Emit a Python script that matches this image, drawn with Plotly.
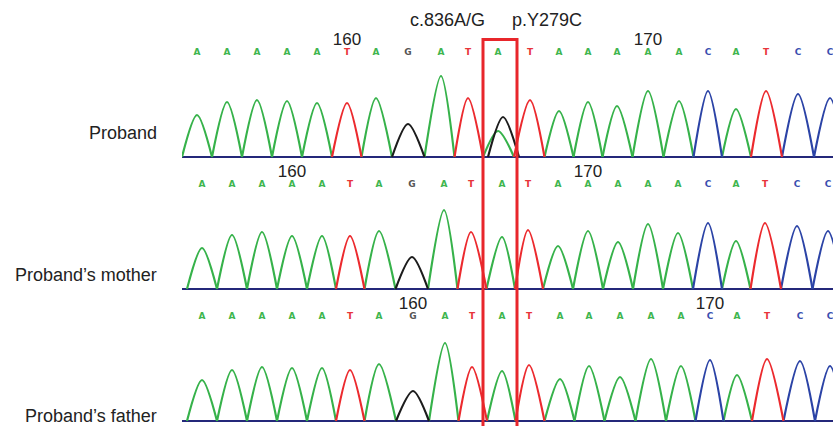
import plotly.graph_objects as go

# ---------------- data ----------------
bases = list("AAAAATAGATATAAAAACATCC")
samples = ["Proband", "Proband’s mother", "Proband’s father"]
first_position = [155, 157, 153]          # position number of first base shown

# peak locations (trace scan units) per sample
peak_loc_proband = [15, 45, 75, 105, 135, 165, 194, 226, 259, 286, 316, 348, 377, 406, 435, 466, 497, 526, 554, 584, 616, 648]
peak_loc_mother = [20, 50, 80, 110, 140, 168, 197, 230, 262, 289, 320, 346, 376, 406, 436, 466, 496, 526, 554, 583, 615, 646]
peak_loc_father = [20, 50, 80, 110, 140, 168, 197, 231, 263, 290, 320, 347, 378, 407, 438, 469, 499, 528, 555, 585, 618, 648]

# peak heights (signal) per sample
height_proband = [42, 55, 57, 56, 54, 54, 59, 33, 81, 59, 26, 57, 46, 55, 51, 66, 56, 66, 48, 66, 63, 59]
height_mother = [41, 54, 57, 53, 53, 53, 58, 32, 79, 57, 52, 59, 43, 58, 47, 65, 56, 66, 48, 66, 63, 58]
height_father = [41, 51, 54, 53, 53, 51, 57, 30, 78, 54, 50, 56, 42, 55, 44, 62, 55, 61, 46, 62, 60, 55]

# heterozygous secondary call in proband (c.836A/G)
mut_index = 10
second_base = "G"
second_loc = 321
second_height = 40

peak_locs = [peak_loc_proband, peak_loc_mother, peak_loc_father]
heights = [height_proband, height_mother, height_father]

channel_color = {"A": "#36b24a", "T": "#ec2a2e", "G": "#1c1c1c", "C": "#2b43a6"}
letter_color = {"A": "#3fb54f", "T": "#e8343a", "G": "#555555", "C": "#3a4fb0"}
baseline_color = "#24287a"

# ---------------- layout helpers ----------------
W, H = 833, 426
left_margin = 182
baseline_px = [157, 289, 421]
label_px = [132.5, 275, 415.5]
ytop_units = 105
ybot_units = -3

fig = go.Figure()


def valleys(locs, i):
    if i == 0:
        lv = locs[0] - (locs[1] - locs[0]) / 2
    else:
        lv = (locs[i - 1] + locs[i]) / 2
    if i == len(locs) - 1:
        rv = locs[i] + (locs[i] - locs[i - 1]) / 2
    else:
        rv = (locs[i] + locs[i + 1]) / 2
    return lv, rv


for p in range(3):
    locs = peak_locs[p]
    hts = heights[p]
    xa = "x" if p == 0 else f"x{p+1}"
    ya = "y" if p == 0 else f"y{p+1}"
    # baseline
    fig.add_trace(go.Scatter(x=[0, 651], y=[0, 0], mode="lines",
                             line=dict(color=baseline_color, width=2),
                             xaxis=xa, yaxis=ya, hoverinfo="skip", showlegend=False))
    segs = {c: ([], []) for c in "ACGT"}
    for i, b in enumerate(bases):
        lv, rv = valleys(locs, i)
        sx, sy = segs[b]
        sx += [lv, locs[i], rv, None]
        sy += [0, hts[i], 0, None]
        if p == 0 and i == mut_index:
            lv2 = lv + (second_loc - locs[i])
            rv2 = rv + (second_loc - locs[i])
            gx, gy = segs[second_base]
            gx += [lv2, second_loc, rv2, None]
            gy += [0, second_height, 0, None]
    for c in "ACGT":
        sx, sy = segs[c]
        if not sx:
            continue
        fig.add_trace(go.Scatter(x=sx, y=sy, mode="lines",
                                 line=dict(color=channel_color[c], width=2.2,
                                           shape="spline", smoothing=0.85),
                                 connectgaps=False,
                                 xaxis=xa, yaxis=ya, hoverinfo="skip", showlegend=False))
    # base calls
    fig.add_trace(go.Scatter(x=locs, y=[104] * len(locs), mode="text",
                             text=bases,
                             textfont=dict(family="DejaVu Sans", size=9, weight="bold",
                                           color=[letter_color[b] for b in bases]),
                             cliponaxis=False, xaxis=xa, yaxis=ya,
                             hoverinfo="skip", showlegend=False))

    # axes
    positions = [first_position[p] + i for i in range(len(bases))]
    tv = [locs[i] for i, pos in enumerate(positions) if pos % 10 == 0]
    tt = [str(pos) for pos in positions if pos % 10 == 0]
    yb = baseline_px[p]
    dom = [(H - (yb - ybot_units)) / H, (H - (yb - ytop_units)) / H]
    xkey = "xaxis" if p == 0 else f"xaxis{p+1}"
    ykey = "yaxis" if p == 0 else f"yaxis{p+1}"
    fig.update_layout(**{
        xkey: dict(range=[0, 651], domain=[0, 1], anchor=ya, side="top",
                   tickvals=tv, ticktext=tt, ticks="", showgrid=False,
                   zeroline=False, showline=False, fixedrange=True,
                   ticklabelstandoff=3,
                   tickfont=dict(family="Liberation Sans, Arial", size=17, color="#222222")),
        ykey: dict(range=[ybot_units, ytop_units], domain=dom, anchor=xa,
                   visible=False, fixedrange=True),
    })
    # sample label
    fig.add_annotation(text=samples[p], xref="paper", yref="paper",
                       x=(159 - left_margin) / (W - left_margin), xanchor="right",
                       y=(H - label_px[p]) / H, yanchor="middle", showarrow=False,
                       font=dict(family="Liberation Sans, Arial", size=18, color="#222222"))

# red box around the mutated base
lv, rv = valleys(peak_loc_proband, mut_index)
fig.add_shape(type="rect", xref="x", yref="paper", x0=lv, x1=rv + 3,
              y0=-0.05, y1=(H - 39.5) / H,
              line=dict(color="#e8262b", width=3), fillcolor="rgba(0,0,0,0)")

fig.add_annotation(text="c.836A/G", xref="x", yref="paper", x=lv, xanchor="right",
                   xshift=4, y=(H - 20.5) / H, yanchor="middle", showarrow=False,
                   font=dict(family="Liberation Sans, Arial", size=18, color="#222222"))
fig.add_annotation(text="p.Y279C", xref="x", yref="paper", x=rv, xanchor="left",
                   xshift=-4, y=(H - 20.5) / H, yanchor="middle", showarrow=False,
                   font=dict(family="Liberation Sans, Arial", size=18, color="#222222"))

fig.update_layout(width=W, height=H, margin=dict(l=left_margin, r=0, t=0, b=0),
                  paper_bgcolor="white", plot_bgcolor="white", showlegend=False)

fig.write_html("out.html", config={"displayModeBar": False},
               post_script="document.body.style.margin='0px';document.body.style.overflow='hidden';")
